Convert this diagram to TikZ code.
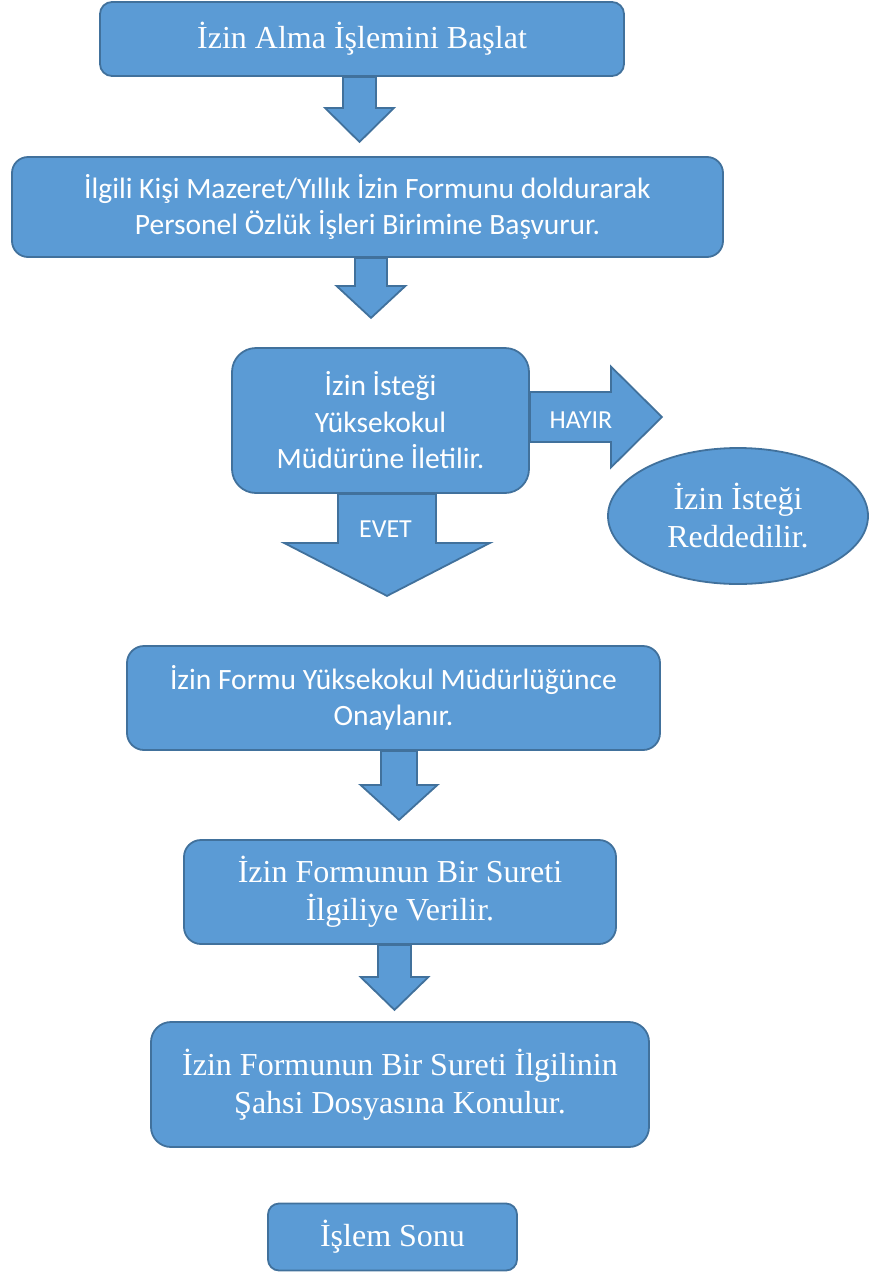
\documentclass[tikz,border=0pt]{standalone}
\RequirePackage{fontspec}
\RequirePackage{tikz}
\usetikzlibrary{calc}
\usetikzlibrary{shapes.geometric}
\setmainfont{Liberation Serif}
\newfontfamily\calibrifont{Carlito}
\definecolor{kutumavi}{HTML}{5B9BD5}
\definecolor{kenarmavi}{HTML}{41719C}
% block arrows: node, shift, shaft half, shaft length, head half, head length
\newcommand{\blockdown}[6]{%
  \draw[blok] ($(#1.south)+(#2,0)$) ++(-#3,0) -- ++(0,#4) -- ++(#3-#5,0)
    -- ++(#5,#6) -- ++(#5,-#6) -- ++(#3-#5,0) -- ++(0,-#4) -- cycle;}
\newcommand{\blockright}[6]{%
  \draw[blok] ($(#1.east)+(0,#2)$) ++(0,-#3) -- ++(#4,0) -- ++(0,#3-#5)
    -- ++(#6,#5) -- ++(-#6,#5) -- ++(0,#3-#5) -- ++(-#4,0) -- cycle;}

\begin{document}
\begin{tikzpicture}[x=1pt,y=-1pt,
                        kutu/.style={draw=kenarmavi,fill=kutumavi,line width=1.8pt,
                            text=white,align=center,inner sep=0pt},
                        serif/.style={kutu,font=\fontsize{32}{38}\selectfont},
                        sans/.style={kutu,font=\calibrifont\fontsize{29.5}{36.5}\selectfont},
                        blok/.style={draw=kenarmavi,fill=kutumavi,line width=1.8pt,line join=miter},
                        etiket/.style={text=white,font=\calibrifont\fontsize{26}{30}\selectfont,anchor=base}]
                        \useasboundingbox (0,0) rectangle (870,1272);
                        \node[serif,rounded corners=12,minimum width=524,minimum height=74]
                            (basla) at (362,39) {İzin Alma İşlemini Başlat};
                        \node[sans,rounded corners=16,minimum width=711,minimum height=100]
                            (basvuru) at (367.5,207) {İlgili Kişi Mazeret/Yıllık İzin Formunu doldurarak\\Personel Özlük İşleri Birimine Başvurur.};
                        \node[sans,rounded corners=24,minimum width=297,minimum height=145]
                            (iletim) at (380.5,420.5) {İzin İsteği\\Yüksekokul\\Müdürüne İletilir.};
                        \node[serif,ellipse,minimum width=260,minimum height=136]
                            (red) at (738,516) {İzin İsteği\\Reddedilir.};
                        \node[sans,rounded corners=17,minimum width=533,minimum height=104]
                            (onay) at (393.5,698) {İzin Formu Yüksekokul Müdürlüğünce\\Onaylanır.};
                        \node[serif,rounded corners=17,minimum width=432,minimum height=104]
                            (suret) at (400,892) {İzin Formunun Bir Sureti\\İlgiliye Verilir.};
                        \node[serif,rounded corners=20,minimum width=498,minimum height=125]
                            (dosya) at (400,1084.5) {İzin Formunun Bir Sureti İlgilinin\\Şahsi Dosyasına Konulur.};
                        \node[serif,rounded corners=11,minimum width=249,minimum height=67]
                            (son) at (392.5,1237) {İşlem Sonu};
                        \blockdown{basla}{-2.5}{16.5}{31}{34.5}{34}
                        \blockdown{basvuru}{3.5}{16}{28}{34.5}{32}
                        \blockdown{iletim}{6.5}{49}{49}{103}{53}
                        \blockright{iletim}{-3.5}{25}{81}{50.5}{51}
                        \blockdown{onay}{5.5}{18}{34}{38.5}{35}
                        \blockdown{suret}{-5.5}{16.5}{32}{34}{33}
                        \node[etiket] (hayir) at (581,428) {HAYIR};
                        \node[etiket] (evet) at (385.5,537) {EVET};
                    \end{tikzpicture}
\end{document}
